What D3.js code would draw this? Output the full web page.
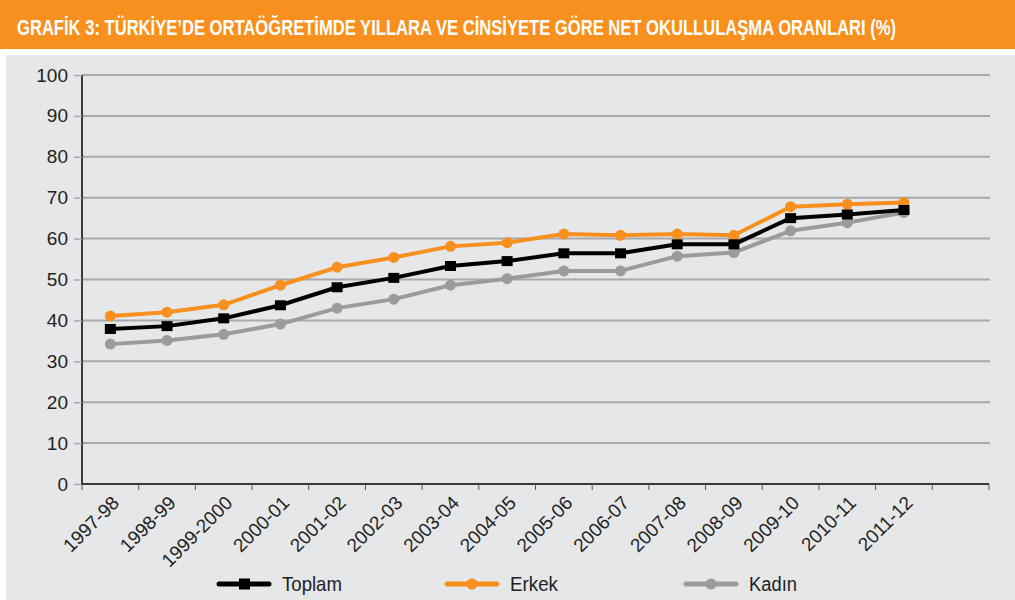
<!DOCTYPE html>
<html><head><meta charset="utf-8">
<script src="https://cdn.jsdelivr.net/npm/d3@7"></script>
<style>body{margin:0;background:#fff}svg{display:block}</style>
</head><body>
<svg id="c" width="1015" height="600"></svg>
<script>
const title = "GRAFİK 3: TÜRKİYE’DE ORTAÖĞRETİMDE YILLARA VE CİNSİYETE GÖRE NET OKULLULAŞMA ORANLARI (%)";
const categories = ["1997-98","1998-99","1999-2000","2000-01","2001-02","2002-03","2003-04","2004-05","2005-06","2006-07","2007-08","2008-09","2009-10","2010-11","2011-12"];
const toplam = [37.9,38.6,40.5,43.7,48.1,50.4,53.3,54.5,56.4,56.4,58.6,58.6,65.0,65.9,67.0];
const erkek  = [41.1,42.0,43.8,48.6,53.0,55.4,58.1,59.0,61.1,60.8,61.1,60.8,67.8,68.4,68.8];
const kadin  = [34.2,35.1,36.6,39.1,43.0,45.2,48.6,50.2,52.1,52.1,55.7,56.6,61.9,63.9,66.4];
const yTicks = [0,10,20,30,40,50,60,70,80,90,100];
const seriesNames = ["Toplam","Erkek","Kadın"];

(function(){
const svg = d3.select("#c");
const W = 1015, H = 600;
const ORANGE = "#f7901e", GRAY = "#9a9b9d", BLACK = "#000";
const font = "'Liberation Sans', Arial, sans-serif";

function fitText(sel, x0, y0, targetW){
  sel.attr("x",0).attr("y",0);
  const w = sel.node().getComputedTextLength();
  sel.attr("transform",`translate(${x0},${y0}) scale(${targetW/w},1)`);
}

svg.append("rect").attr("width",W).attr("height",H).attr("fill","#fff");
svg.append("rect").attr("x",0).attr("y",0).attr("width",W).attr("height",49).attr("fill",ORANGE);
svg.append("rect").attr("x",6).attr("y",55).attr("width",W-6).attr("height",H-55).attr("fill","#e6e7e8");
const t = svg.append("text").text(title)
  .attr("font-family",font).attr("font-weight","bold").attr("font-size",22)
  .attr("fill","#fff");
fitText(t, 17, 35, 880);

const pL = 82, pR = 989, pT = 75, pB = 484;
// 16 bands: 15 categories + one empty slot
const bandDomain = categories.concat([""]);
const x = d3.scaleBand().domain(bandDomain).range([pL,pR]).padding(0);
const y = d3.scaleLinear().domain([0,100]).range([pB,pT]);

// gridlines
svg.append("g").selectAll("line").data(yTicks.filter(d=>d>0)).join("line")
  .attr("x1",pL).attr("x2",990).attr("y1",d=>y(d)).attr("y2",d=>y(d))
  .attr("stroke","#a7a9ac").attr("stroke-width",2);

// y axis
const yAxis = svg.append("g").attr("transform",`translate(${pL},0)`)
  .call(d3.axisLeft(y).tickValues(yTicks).tickSize(8).tickPadding(6));
yAxis.select(".domain").attr("stroke","#000").attr("stroke-width",1.5).attr("d",`M0,${pT}V${pB}`);
yAxis.selectAll(".tick line").attr("stroke","#a7a9ac").attr("stroke-width",1.5);
yAxis.selectAll(".tick text").attr("font-family",font).attr("font-size",19).attr("fill","#222");

// x axis
const xAxis = svg.append("g").attr("transform",`translate(0,${pB})`);
xAxis.append("line").attr("x1",pL).attr("x2",pR).attr("y1",0).attr("y2",0).attr("stroke","#000").attr("stroke-width",1.5);
const bounds = bandDomain.map(d=>x(d)).concat([pR]);
xAxis.selectAll("line.tk").data(bounds).join("line").attr("class","tk")
  .attr("x1",d=>d).attr("x2",d=>d).attr("y1",0).attr("y2",6).attr("stroke","#555").attr("stroke-width",1);
xAxis.selectAll("text").data(categories).join("text")
  .attr("transform",d=>`translate(${x(d)+x.bandwidth()/2+10},${20}) rotate(-45)`)
  .attr("text-anchor","end").attr("font-family",font).attr("font-size",19).attr("fill","#222")
  .text(d=>d);

const cx = (d,i)=>x(categories[i])+x.bandwidth()/2;
const line = d3.line().x((d,i)=>cx(d,i)).y(d=>y(d));

function drawSeries(vals,color,marker){
  const g = svg.append("g");
  g.append("path").datum(vals).attr("d",line).attr("fill","none")
    .attr("stroke",color).attr("stroke-width",4).attr("stroke-linejoin","round");
  if(marker==="square"){
    g.selectAll("rect").data(vals).join("rect")
      .attr("x",(d,i)=>cx(d,i)-5.5).attr("y",d=>y(d)-5).attr("width",11).attr("height",10).attr("fill",color);
  } else {
    g.selectAll("circle").data(vals).join("circle")
      .attr("cx",(d,i)=>cx(d,i)).attr("cy",d=>y(d)).attr("r",5.5).attr("fill",color);
  }
}
drawSeries(kadin,GRAY,"circle");
drawSeries(erkek,ORANGE,"circle");
drawSeries(toplam,BLACK,"square");

// legend
const legend = [
  {name:seriesNames[0],color:BLACK,marker:"square",x:219,w:60},
  {name:seriesNames[1],color:ORANGE,marker:"circle",x:447,w:48},
  {name:seriesNames[2],color:GRAY,marker:"circle",x:686,w:48}
];
const ly = 584;
legend.forEach(l=>{
  const g = svg.append("g");
  g.append("line").attr("x1",l.x).attr("x2",l.x+50).attr("y1",ly).attr("y2",ly)
    .attr("stroke",l.color).attr("stroke-width",5).attr("stroke-linecap","round");
  if(l.marker==="square") g.append("rect").attr("x",l.x+20).attr("y",ly-5.5).attr("width",11).attr("height",11).attr("fill",l.color);
  else g.append("circle").attr("cx",l.x+25).attr("cy",ly).attr("r",5.5).attr("fill",l.color);
  const tx = g.append("text").text(l.name)
    .attr("font-family",font).attr("font-size",21).attr("fill","#222");
  fitText(tx, l.x+63, ly+7, l.w);
});
})();
</script>
</body></html>
